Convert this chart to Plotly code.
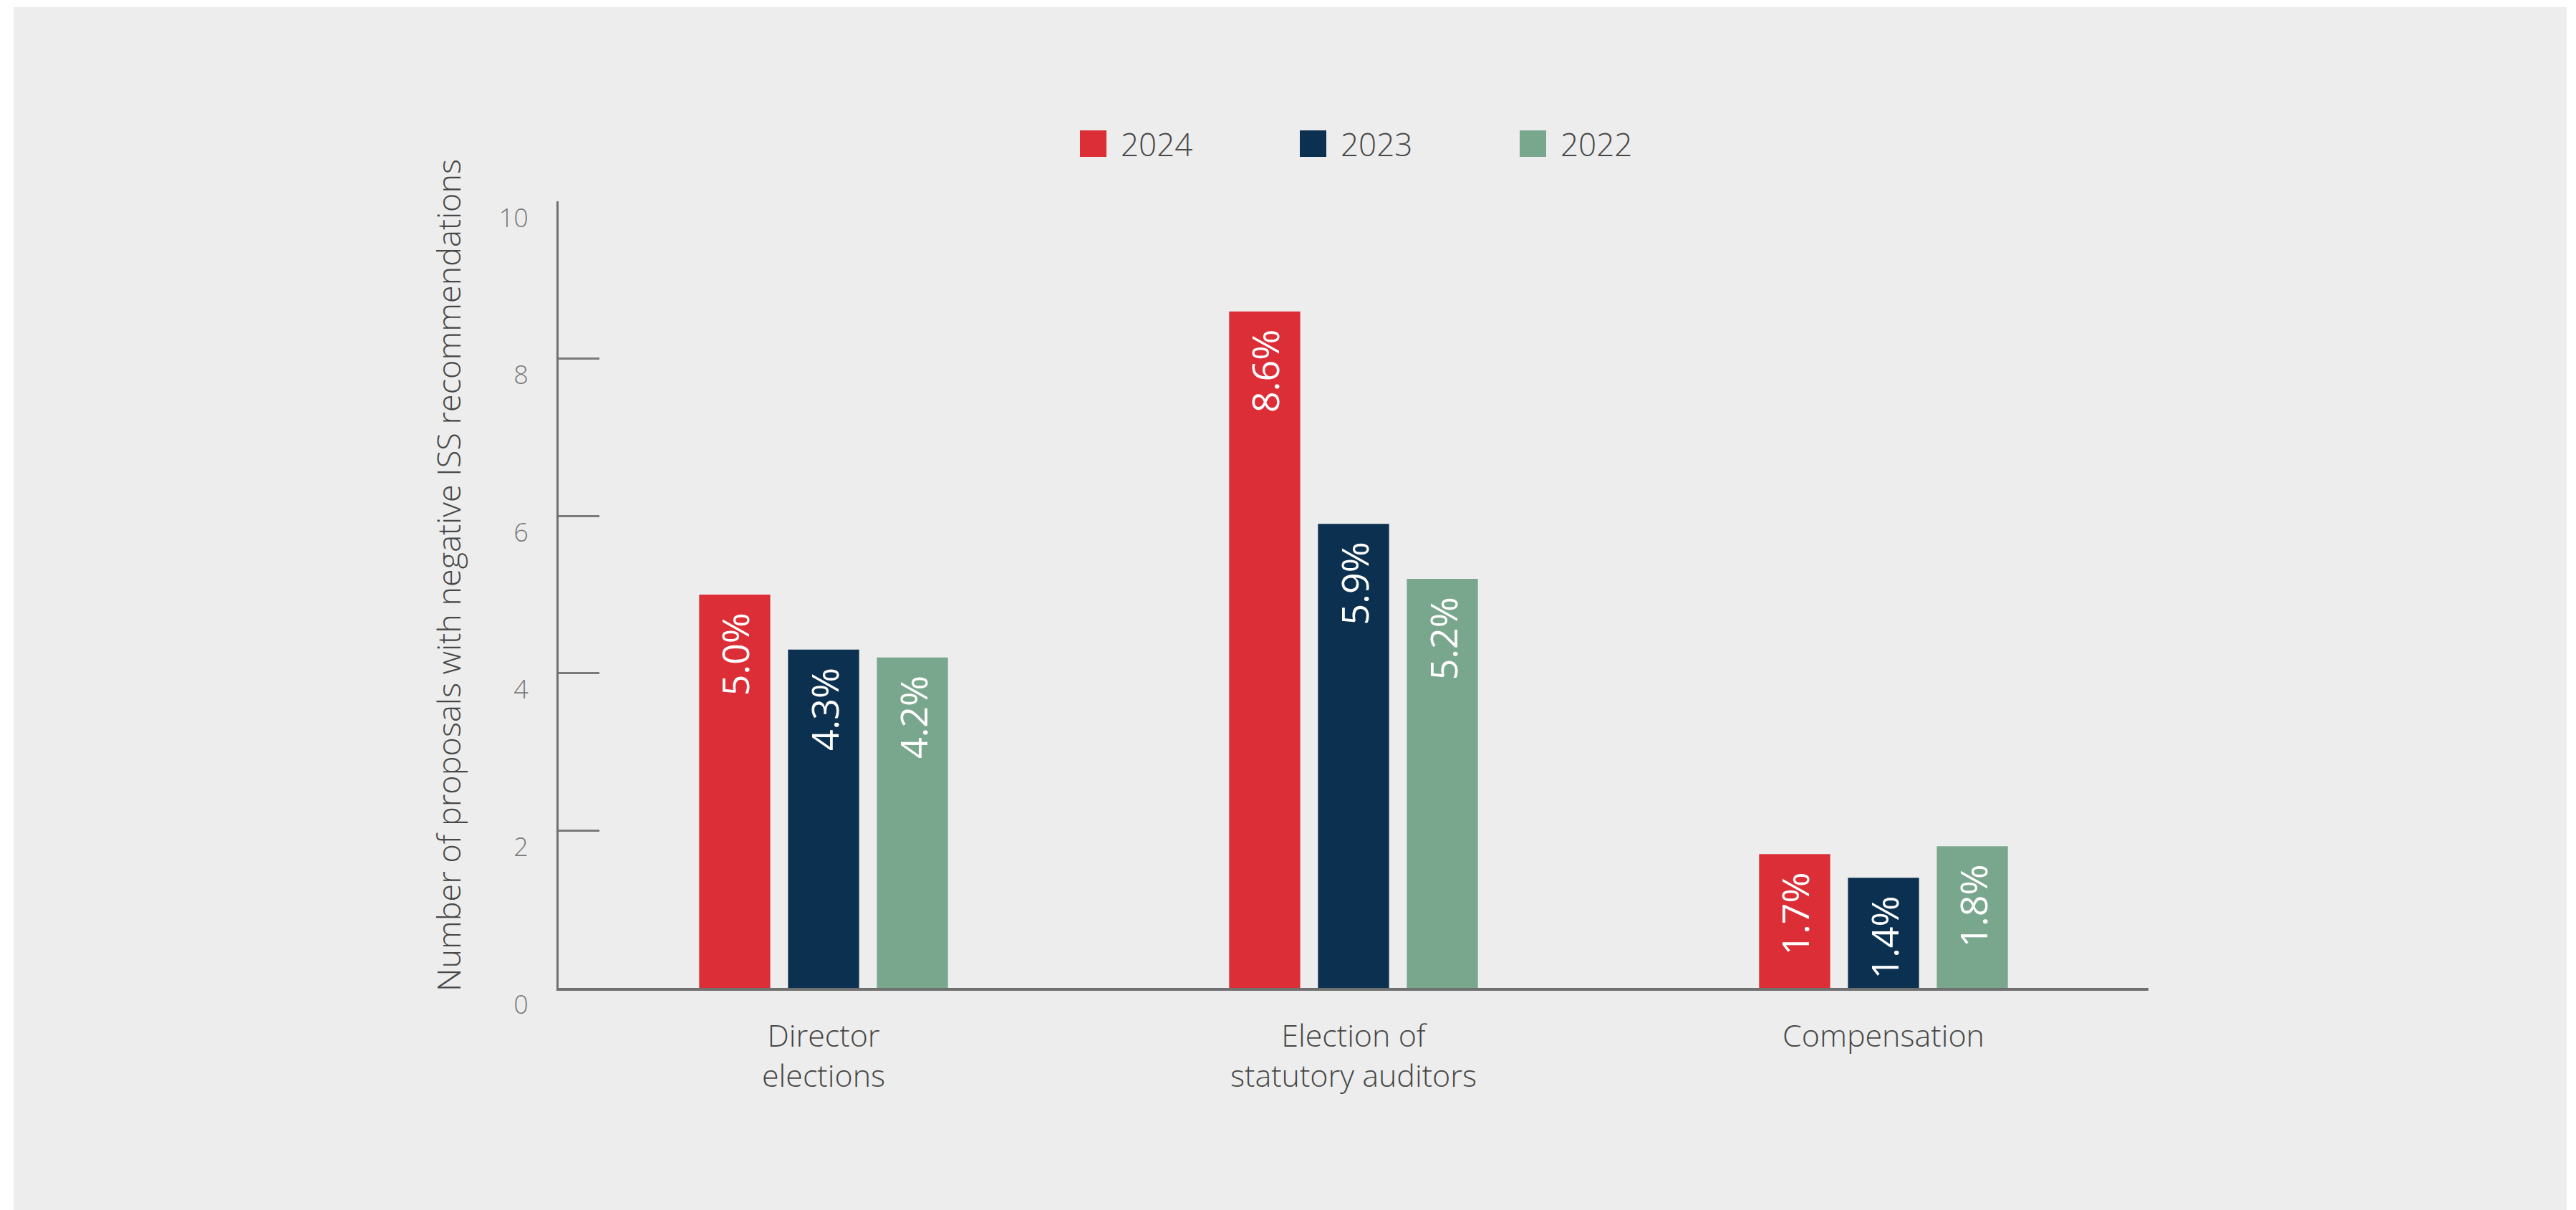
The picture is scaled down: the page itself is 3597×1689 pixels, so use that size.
import plotly.graph_objects as go

# Share of proposals with negative ISS recommendations, by proposal type and year
categories = ["Director elections", "Election of statutory auditors", "Compensation"]
tick_labels = ["Director<br>elections", "Election of<br>statutory auditors", "Compensation"]
years = ["2024", "2023", "2022"]
values_2024 = [5.0, 8.6, 1.7]
values_2023 = [4.3, 5.9, 1.4]
values_2022 = [4.2, 5.2, 1.8]
y_ticks = [0, 2, 4, 6, 8, 10]
y_title = "Number of proposals with negative ISS recommendations"

series = [
    ("2024", values_2024, "#DC2E37"),
    ("2023", values_2023, "#0C3050"),
    ("2022", values_2022, "#79A78D"),
]

W, H = 3597, 1689
ML, MR, MT, MB = 780, 597, 281, 310
PW, PH = W - ML - MR, H - MT - MB

BG = "#ECEDEC"
TEXT = "#474747"
FONT = "Open Sans"


def fx(px):
    """Pixel x -> paper x."""
    return (px - ML) / PW


def fy(py):
    """Pixel y -> paper y."""
    return (H - MB - py) / PH


fig = go.Figure()

for name, vals, color in series:
    fig.add_trace(go.Bar(
        name=name,
        x=categories,
        y=vals,
        marker=dict(color=color, line=dict(width=0)),
        # value label, kept a little below the top of the bar
        texttemplate="%{y:.1f}%\u00a0\u2009",
        textposition="inside",
        insidetextanchor="end",
        textangle=-90,
        insidetextfont=dict(family=FONT, size=52, color="white"),
        showlegend=False,
        hoverinfo="skip",
    ))

shapes = [
    # grey panel behind the chart
    dict(type="rect", xref="paper", yref="paper",
         x0=fx(19), x1=fx(3584), y0=fy(10), y1=fy(1689),
         fillcolor=BG, line=dict(width=0), layer="below"),
]
annotations = []

# custom legend: large square swatches with year labels
for i, (name, vals, color) in enumerate(series):
    left = 1508 + i * 307
    shapes.append(dict(type="rect", xref="paper", yref="paper",
                       x0=fx(left), x1=fx(left + 37), y0=fy(182), y1=fy(219),
                       fillcolor=color, line=dict(width=0)))
    annotations.append(dict(xref="paper", yref="paper", x=fx(left + 55), y=fy(201),
                            text=name, showarrow=False, xanchor="left", yanchor="middle",
                            font=dict(family=FONT, size=44, color=TEXT, weight=300)))

# y-axis title
annotations.append(dict(xref="paper", yref="paper", x=fx(625), y=fy(803),
                        text=y_title, textangle=-90, showarrow=False,
                        xanchor="center", yanchor="middle",
                        font=dict(family=FONT, size=45, color=TEXT, weight=300)))

fig.update_layout(
    width=W, height=H, autosize=False,
    margin=dict(l=ML, r=MR, t=MT, b=MB, pad=0),
    paper_bgcolor="white",
    plot_bgcolor="rgba(0,0,0,0)",
    barmode="group",
    bargap=0.497,
    bargroupgap=0.2,
    uniformtext=dict(minsize=50, mode="show"),
    shapes=shapes,
    annotations=annotations,
    showlegend=False,
    xaxis=dict(
        type="category",
        range=[-0.5, 2.5],
        tickvals=categories,
        ticktext=tick_labels,
        showline=True, linecolor="#707070", linewidth=4,
        ticks="", showgrid=False, zeroline=False,
        tickfont=dict(family=FONT, size=43, color=TEXT, weight=300),
        ticklabelstandoff=26,
    ),
    yaxis=dict(
        range=[0, 10],
        tickvals=y_ticks,
        showline=True, linecolor="#707070", linewidth=3,
        ticks="inside", ticklen=57, tickwidth=2.5, tickcolor="#7a7a7a",
        showgrid=False, zeroline=False,
        tickfont=dict(family=FONT, size=36, color="#7a7a7a", weight=300),
        ticklabelstandoff=32,
        ticklabelshift=23,
    ),
)

fig.write_html("out.html")
